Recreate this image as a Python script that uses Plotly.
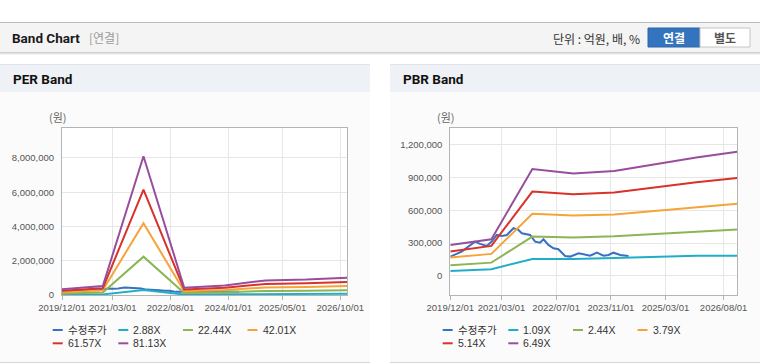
import plotly.graph_objects as go

W, H = 760, 364

# ---------------- data ----------------
price_dates = ["2019-12-01", "2020-03-11", "2020-07-08", "2020-08-22", "2020-10-21", "2020-12-04",
               "2021-01-18", "2021-03-04", "2021-04-18", "2021-06-16", "2021-07-30", "2021-08-29",
               "2021-11-11", "2021-12-26", "2022-02-08", "2022-03-10", "2022-04-23", "2022-06-07",
               "2022-07-21", "2022-09-19", "2022-11-03", "2022-12-17", "2023-01-16", "2023-03-02",
               "2023-04-30", "2023-06-29", "2023-08-27", "2023-10-11", "2023-11-24", "2024-01-23",
               "2024-04-06"]
price_vals = [177000, 223000, 314000, 293000, 275000, 314000,
              375000, 366000, 375000, 437000, 421000, 391000,
              375000, 314000, 305000, 336000, 284000, 253000,
              244000, 183000, 177000, 192000, 208000, 199000,
              186000, 213000, 186000, 192000, 213000, 192000,
              183000]

band_dates = ["2019-12-01", "2020-12-01", "2021-12-01", "2022-12-01",
              "2023-12-01", "2024-12-01", "2025-12-01", "2026-12-01"]

per_names = ["2.88X", "22.44X", "42.01X", "61.57X", "81.13X"]
per_288 = [25000, 35000, 295000, 30000, 40000, 55000, 60000, 80000]
per_2244 = [91000, 144000, 2240000, 119000, 155000, 235000, 249000, 279000]
per_4201 = [171000, 269000, 4195000, 223000, 290000, 440000, 466000, 523000]
per_6157 = [250000, 395000, 6150000, 326000, 425000, 645000, 683000, 766000]
per_8113 = [330000, 520000, 8100000, 430000, 560000, 850000, 900000, 1010000]

pbr_names = ["1.09X", "2.44X", "3.79X", "5.14X", "6.49X"]
pbr_109 = [46000, 61000, 156000, 156000, 165000, 177000, 186000, 186000]
pbr_244 = [98000, 122000, 360000, 352000, 363000, 385000, 406000, 424000]
pbr_379 = [168000, 202000, 568000, 552000, 562000, 595000, 629000, 660000]
pbr_514 = [223000, 275000, 772000, 748000, 763000, 809000, 858000, 895000]
pbr_649 = [284000, 336000, 977000, 937000, 959000, 1023000, 1084000, 1136000]

per_ticks = ["2019-12-01", "2021-03-01", "2022-08-01", "2024-01-01", "2025-05-01", "2026-10-01"]
pbr_ticks = ["2019-12-01", "2021-03-01", "2022-07-01", "2023-11-01", "2025-03-01", "2026-08-01"]
per_yticks = [0, 2000000, 4000000, 6000000, 8000000]
pbr_yticks = [0, 300000, 600000, 900000, 1200000]
price_name = "수정주가"

colors = ["#3871c1", "#20aec6", "#8cb553", "#f5a43a", "#d8322a", "#984e9c"]

# ---------------- helpers ----------------
def px(x):
    return x / W

def py(y):
    return 1 - y / H

shapes = []
annotations = []

def rect(x0, y0, x1, y1, fill, line=None, lw=0):
    shapes.append(dict(type="rect", xref="paper", yref="paper",
                       x0=px(x0), x1=px(x1), y0=py(y1), y1=py(y0),
                       fillcolor=fill, line=dict(width=lw, color=line or fill),
                       layer="below"))

def hline(x0, x1, y, color, lw=1):
    shapes.append(dict(type="line", xref="paper", yref="paper",
                       x0=px(x0), x1=px(x1), y0=py(y), y1=py(y),
                       line=dict(width=lw, color=color), layer="below"))

def text(x, y, s, size=12, color="#333", bold=False, anchor="left",
         family="Noto Sans CJK KR, Liberation Sans, sans-serif"):
    if bold:
        s = "<b>" + s + "</b>"
    annotations.append(dict(xref="paper", yref="paper", x=px(x), y=py(y), text=s,
                            showarrow=False, xanchor=anchor, yanchor="middle",
                            font=dict(size=size, color=color, family=family)))

HEAD_FONT = "Roboto, Liberation Sans, sans-serif"

# ---------------- page chrome ----------------
rect(0, 22, 760, 52, "#f4f4f4")
hline(0, 760, 22.5, "#bdbdbd")
hline(0, 760, 52.5, "#cfcfcf")
hline(0, 760, 53.5, "#e4e4e4")
hline(0, 760, 54.5, "#f0f0f0")
text(10, 38, "Band Chart", size=13.5, color="#1a1a1a", bold=True, family=HEAD_FONT)
text(87, 38, "[연결]", size=12, color="#9a9a9a")
text(642, 38.5, "단위 : 억원, 배, %", size=12, color="#333", anchor="right")
rect(648, 28, 700, 47, "#3473bd", line="#2c64a8", lw=1)
rect(700, 28, 750, 47, "#ffffff", line="#c4c4c4", lw=1)
text(674, 38, "연결", size=12, color="#ffffff", bold=True, anchor="center")
text(725, 38, "별도", size=12, color="#555555", bold=True, anchor="center")

for (x0, x1, title) in [(0, 370, "PER Band"), (390, 760, "PBR Band")]:
    rect(x0, 92, x1, 362, "#fbfbfb")
    rect(x0, 64, x1, 92, "#eef1f5")
    hline(x0, x1, 64.5, "#dfe2e6")
    hline(x0, x1, 362.5, "#d6d6d6")
    text(x0 + 11, 79, title, size=13.5, color="#111", bold=True, family=HEAD_FONT)

PER_X = (62, 347)
PBR_X = (450.3, 737.3)
PLOT_Y = (128, 295)
rect(PER_X[0], PLOT_Y[0], PER_X[1], PLOT_Y[1], "#ffffff")
rect(PBR_X[0], PLOT_Y[0], PBR_X[1], PLOT_Y[1], "#ffffff")

text(47, 117.5, "(원)", size=11, color="#666")
text(435, 117.5, "(원)", size=11, color="#666")

# ---------------- traces ----------------
fig = go.Figure()

per_series = [per_288, per_2244, per_4201, per_6157, per_8113]
pbr_series = [pbr_109, pbr_244, pbr_379, pbr_514, pbr_649]

fig.add_trace(go.Scatter(x=price_dates, y=price_vals, name=price_name, mode="lines",
                         line=dict(color=colors[0], width=2), xaxis="x", yaxis="y"))
for i, (nm, vals) in enumerate(zip(per_names, per_series)):
    fig.add_trace(go.Scatter(x=band_dates, y=vals, name=nm, mode="lines",
                             line=dict(color=colors[i + 1], width=2), xaxis="x", yaxis="y"))

fig.add_trace(go.Scatter(x=price_dates, y=price_vals, name=price_name, mode="lines",
                         line=dict(color=colors[0], width=2), xaxis="x2", yaxis="y2"))
for i, (nm, vals) in enumerate(zip(pbr_names, pbr_series)):
    fig.add_trace(go.Scatter(x=band_dates, y=vals, name=nm, mode="lines",
                             line=dict(color=colors[i + 1], width=2), xaxis="x2", yaxis="y2"))

# ---------------- custom legends ----------------
legend_slots = [(52.7, 330), (118.3, 330), (183, 330), (247.5, 330), (52.7, 343.3), (118.3, 343.3)]
for off, names in [(0, [price_name] + per_names), (390, [price_name] + pbr_names)]:
    for i, nm in enumerate(names):
        sx, sy = legend_slots[i]
        sx += off
        shapes.append(dict(type="line", xref="paper", yref="paper",
                           x0=px(sx), x1=px(sx + 10), y0=py(sy), y1=py(sy),
                           line=dict(width=2, color=colors[i])))
        text(sx + 13, sy, nm, size=10.5, color="#333",
             family="Liberation Sans, Noto Sans CJK KR, sans-serif")

# ---------------- axes ----------------
tick_font = dict(size=9.5, color="#555", family="Liberation Sans, Arial, sans-serif")

def xaxis_cfg(domain, ticks, anchor):
    return dict(domain=domain, type="date", range=["2019-12-01", "2026-12-01"],
                tickvals=ticks, ticktext=[t.replace("-", "/") for t in ticks],
                tickangle=0, automargin=False,
                showgrid=True, gridcolor="#e6e6e6", gridwidth=1,
                showline=True, linecolor="#b4b4b4", linewidth=1, mirror=True,
                ticks="outside", ticklen=4, tickcolor="#b4b4b4",
                tickfont=tick_font, zeroline=False, fixedrange=True, anchor=anchor)

def yaxis_cfg(domain, rng, ticks, anchor):
    return dict(domain=domain, range=rng, tickvals=ticks,
                ticktext=[f"{t:,}" for t in ticks], automargin=False,
                showgrid=True, gridcolor="#e6e6e6", gridwidth=1,
                showline=True, linecolor="#b4b4b4", linewidth=1, mirror=True,
                ticks="", ticklabelstandoff=5, tickfont=tick_font,
                zeroline=False, anchor=anchor, fixedrange=True)

ydom = [py(PLOT_Y[1]), py(PLOT_Y[0])]
fig.update_layout(
    width=W, height=H, autosize=False,
    margin=dict(l=0, r=0, t=0, b=0, pad=0, autoexpand=False),
    paper_bgcolor="#ffffff", plot_bgcolor="rgba(0,0,0,0)",
    showlegend=False,
    xaxis=xaxis_cfg([px(PER_X[0]), px(PER_X[1])], per_ticks, "y"),
    yaxis=yaxis_cfg(ydom, [0, 9750000], per_yticks, "x"),
    xaxis2=xaxis_cfg([px(PBR_X[0]), px(PBR_X[1])], pbr_ticks, "y2"),
    yaxis2=yaxis_cfg(ydom, [-174000, 1353000], pbr_yticks, "x2"),
    shapes=shapes, annotations=annotations,
)

post = ("document.documentElement.style.margin='0';"
        "document.documentElement.style.padding='0';"
        "document.documentElement.style.overflow='hidden';"
        "document.body.style.margin='0';"
        "document.body.style.padding='0';"
        "document.body.style.overflow='hidden';")
fig.write_html("out.html", config={"displayModeBar": False}, post_script=post)
